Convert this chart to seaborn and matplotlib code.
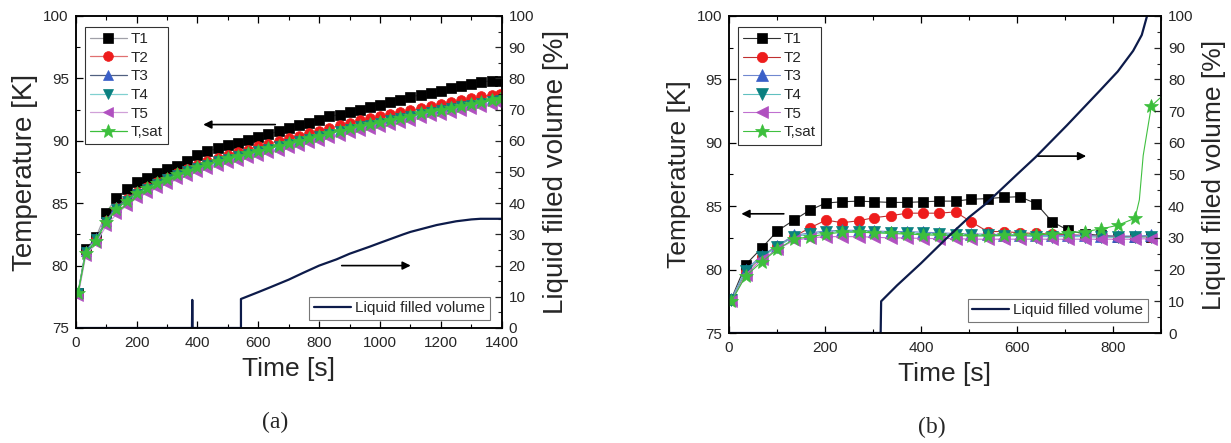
import numpy as np
import pandas as pd
import matplotlib
matplotlib.use("Agg")
import matplotlib.pyplot as plt
from matplotlib.ticker import MultipleLocator
import seaborn as sns

# ---------------- data: panel (a) ----------------
time_a = [8, 33, 67, 100, 133, 167, 200, 233, 267, 300, 333, 367, 400, 433, 467, 500,
          533, 567, 600, 633, 667, 700, 733, 767, 800, 833, 867, 900, 933, 967, 1000,
          1033, 1067, 1100, 1133, 1167, 1200, 1233, 1267, 1300, 1333, 1367, 1395]
t1_a = [77.8, 81.3, 82.3, 84.25, 85.4, 86.1, 86.7, 87.05, 87.4, 87.7, 88.0, 88.4, 88.85,
        89.15, 89.4, 89.65, 89.85, 90.05, 90.3, 90.55, 90.75, 91.0, 91.25, 91.45, 91.7,
        91.95, 92.1, 92.3, 92.5, 92.7, 92.9, 93.1, 93.3, 93.5, 93.7, 93.85, 94.0, 94.2,
        94.4, 94.55, 94.72, 94.8, 94.8]
t2_a = [77.8, 81.1, 82.1, 83.6, 84.6, 85.3, 85.9, 86.3, 86.7, 87.05, 87.4, 87.75, 88.05,
        88.35, 88.6, 88.85, 89.1, 89.3, 89.55, 89.75, 90.0, 90.2, 90.4, 90.6, 90.8, 91.0,
        91.25, 91.45, 91.65, 91.8, 91.95, 92.15, 92.3, 92.45, 92.6, 92.8, 92.95, 93.1,
        93.25, 93.4, 93.55, 93.7, 93.75]
t3_a = [77.9, 81.2, 82.2, 83.6, 84.7, 85.3, 85.9, 86.3, 86.7, 87.05, 87.4, 87.7, 88.0,
        88.25, 88.5, 88.7, 88.9, 89.1, 89.3, 89.5, 89.7, 89.9, 90.1, 90.3, 90.5, 90.7,
        90.9, 91.1, 91.3, 91.45, 91.6, 91.8, 91.95, 92.1, 92.3, 92.45, 92.6, 92.75, 92.9,
        93.05, 93.2, 93.35, 93.45]
t4_a = [77.8, 81.1, 82.1, 83.5, 84.55, 85.15, 85.75, 86.15, 86.55, 86.9, 87.25, 87.55,
        87.85, 88.1, 88.35, 88.55, 88.75, 88.95, 89.15, 89.35, 89.55, 89.75, 89.95, 90.15,
        90.35, 90.55, 90.75, 90.95, 91.15, 91.3, 91.45, 91.65, 91.8, 91.95, 92.15, 92.3,
        92.45, 92.6, 92.75, 92.9, 93.05, 93.2, 93.3]
t5_a = [77.6, 80.8, 81.8, 83.2, 84.1, 84.8, 85.4, 85.8, 86.2, 86.55, 86.9, 87.2, 87.5,
        87.75, 88.0, 88.2, 88.4, 88.6, 88.8, 89.0, 89.2, 89.4, 89.6, 89.8, 90.0, 90.2,
        90.4, 90.6, 90.8, 90.95, 91.1, 91.3, 91.45, 91.6, 91.8, 91.95, 92.1, 92.25, 92.4,
        92.55, 92.7, 92.85, 92.95]
tsat_a = [77.8, 81.0, 82.0, 83.5, 84.5, 85.2, 85.8, 86.2, 86.6, 86.95, 87.3, 87.6, 87.9,
          88.15, 88.4, 88.6, 88.8, 89.0, 89.2, 89.4, 89.6, 89.8, 90.0, 90.2, 90.4, 90.6,
          90.8, 91.0, 91.2, 91.35, 91.5, 91.7, 91.85, 92.0, 92.2, 92.35, 92.5, 92.65,
          92.8, 92.95, 93.1, 93.25, 93.35]
vol_time_a = [0, 382, 383, 384, 543, 543, 600, 638, 700, 748, 800, 857, 900, 967, 1000,
              1076, 1100, 1186, 1250, 1300, 1330, 1400]
vol_a = [0, 0, 9.0, 0, 0, 9.3, 11.5, 13.0, 15.5, 17.7, 20.0, 22.0, 23.8, 26.1, 27.3,
         30.0, 30.8, 33.0, 34.2, 34.8, 35.0, 35.0]

# ---------------- data: panel (b) ----------------
time_b = [5, 35, 68, 101, 135, 169, 202, 236, 270, 303, 337, 371, 404, 438, 472, 505,
          539, 573, 606, 640, 674, 707, 741, 775, 810, 846, 880]
t1_b = [77.7, 80.4, 81.7, 83.05, 83.9, 84.7, 85.25, 85.35, 85.4, 85.35, 85.3, 85.3, 85.35,
        85.4, 85.4, 85.55, 85.6, 85.7, 85.75, 85.2, 83.75, 83.1, 82.8, 82.7, 82.6, 82.6, 82.6]
t2_b = [77.6, 79.8, 81.0, 81.9, 82.6, 83.3, 83.9, 83.7, 83.85, 84.1, 84.25, 84.45, 84.45,
        84.45, 84.55, 83.75, 83.0, 83.0, 82.9, 82.85, 82.8, 82.75, 82.7, 82.65, 82.6, 82.6, 82.6]
t3_b = [77.7, 80.0, 81.1, 81.9, 82.7, 82.9, 83.05, 83.1, 83.1, 83.05, 83.0, 83.0, 82.95,
        82.9, 82.85, 82.8, 82.8, 82.75, 82.75, 82.7, 82.7, 82.7, 82.7, 82.65, 82.65, 82.65, 82.7]
t4_b = [77.6, 79.9, 81.0, 81.8, 82.6, 82.8, 82.95, 83.0, 83.0, 82.95, 82.9, 82.9, 82.85,
        82.8, 82.75, 82.7, 82.7, 82.65, 82.65, 82.6, 82.6, 82.6, 82.6, 82.55, 82.55, 82.55, 82.6]
t5_b = [77.5, 79.6, 80.8, 81.6, 82.3, 82.5, 82.6, 82.6, 82.6, 82.55, 82.5, 82.5, 82.45,
        82.45, 82.45, 82.4, 82.4, 82.4, 82.4, 82.4, 82.4, 82.4, 82.4, 82.4, 82.4, 82.4, 82.45]
time_sat_b = [5, 35, 68, 101, 135, 169, 202, 236, 270, 303, 337, 371, 404, 438, 472, 505,
              539, 573, 606, 640, 674, 707, 741, 775, 810, 846, 855, 863, 880, 900]
tsat_b = [77.5, 79.5, 80.6, 81.6, 82.4, 82.6, 82.8, 82.95, 82.95, 82.9, 82.85, 82.8, 82.75,
          82.7, 82.7, 82.65, 82.65, 82.7, 82.7, 82.75, 82.8, 82.9, 83.0, 83.2, 83.5, 84.05,
          85.5, 89.0, 92.9, 93.6]
vol_time_b = [0, 316, 317, 350, 400, 454, 500, 533, 565, 600, 639, 704, 773, 810, 842, 860,
              871]
vol_b = [0, 0, 10.0, 15.0, 22.0, 30.0, 36.5, 40.5, 45.0, 50.0, 55.5, 65.5, 76.5, 82.5,
         89.0, 94.0, 100.0]

labels = ["T1", "T2", "T3", "T4", "T5", "T,sat"]

# ---------------- style ----------------
sns.set_theme(style="ticks")
plt.rcParams["font.family"] = ["Liberation Sans", "DejaVu Sans"]
plt.rcParams["xtick.direction"] = "in"
plt.rcParams["ytick.direction"] = "in"

styles_a = [
    dict(marker="s", mfc="#000000", mec="#000000", line="#a0a0a8", ms=6.5),
    dict(marker="o", mfc="#ee1c1c", mec="#ee1c1c", line="#e07070", ms=7),
    dict(marker="^", mfc="#3a5fc8", mec="#3a5fc8", line="#506080", ms=7.5),
    dict(marker="v", mfc="#0a8080", mec="#0a8080", line="#80d0d0", ms=7.5),
    dict(marker="<", mfc="#b050c0", mec="#b050c0", line="#d0a0d8", ms=7.5),
    dict(marker="*", mfc="#3cbf3c", mec="#3cbf3c", line="#3cbf3c", ms=10),
]
styles_b = [
    dict(marker="s", mfc="#000000", mec="#000000", line="#303030", ms=7),
    dict(marker="o", mfc="#ee1c1c", mec="#ee1c1c", line="#c03030", ms=7.5),
    dict(marker="^", mfc="#3a5fc8", mec="#3a5fc8", line="#7088d0", ms=8),
    dict(marker="v", mfc="#0a8080", mec="#0a8080", line="#60c0c0", ms=8),
    dict(marker="<", mfc="#b050c0", mec="#b050c0", line="#c070d0", ms=8),
    dict(marker="*", mfc="#3cbf3c", mec="#3cbf3c", line="#40c040", ms=10.5),
]

fig = plt.figure(figsize=(12.31, 4.43), dpi=100)
axA = fig.add_axes([0.0615, 0.2596, 0.3461, 0.7043])
axB = fig.add_axes([0.5922, 0.2483, 0.3509, 0.7156])


def draw_series(ax, xs_list, ys_list, mark_idx, styles, lw):
    for xs, ys, mi, lab, st in zip(xs_list, ys_list, mark_idx, labels, styles):
        sns.lineplot(x=xs, y=ys, ax=ax, color=st["line"], linewidth=lw, label=lab,
                     marker=st["marker"], markersize=st["ms"], markerfacecolor=st["mfc"],
                     markeredgecolor=st["mec"], markeredgewidth=0.5,
                     markevery=mi, estimator=None, sort=False, zorder=3)


def style_axes(ax, ax2, xmax, fs_y, fs_y2, fs_x, pad_x):
    ax.set_xlim(0, xmax)
    ax.set_ylim(75, 100)
    ax2.set_ylim(0, 100)
    ax.xaxis.set_major_locator(MultipleLocator(200))
    ax.xaxis.set_minor_locator(MultipleLocator(100))
    ax.yaxis.set_major_locator(MultipleLocator(5))
    ax.yaxis.set_minor_locator(MultipleLocator(2.5))
    ax2.yaxis.set_major_locator(MultipleLocator(10))
    ax2.yaxis.set_minor_locator(MultipleLocator(5))
    ax.tick_params(axis="both", which="both", direction="in", top=True, right=False,
                   labelsize=11, color="black")
    ax.tick_params(axis="x", pad=6)
    ax.tick_params(axis="y", pad=5)
    ax.tick_params(which="major", length=5, width=0.9)
    ax.tick_params(which="minor", length=3, width=0.8)
    ax2.tick_params(axis="y", which="both", direction="in", labelsize=11, pad=5)
    ax2.tick_params(which="major", length=5, width=0.9)
    ax2.tick_params(which="minor", length=3, width=0.8)
    for a in (ax, ax2):
        for s in a.spines.values():
            s.set_linewidth(1.1)
            s.set_color("black")
            s.set_visible(True)
    ax.set_xlabel("Time [s]", fontsize=fs_x, labelpad=pad_x)
    ax.set_ylabel("Temperature [K]", fontsize=fs_y, labelpad=4)
    ax2.set_ylabel("Liquid filled volume [%]", fontsize=fs_y2, labelpad=6)


def add_legends(ax, ax2, vol_anchor):
    leg = ax.legend(loc="upper left", bbox_to_anchor=(0.014, 0.975), frameon=True,
                    fontsize=11, handlelength=2.4, handletextpad=0.25, labelspacing=0.3,
                    borderpad=0.35, fancybox=False, borderaxespad=0.2)
    leg.get_frame().set_edgecolor("black")
    leg.get_frame().set_linewidth(0.8)
    lv = ax2.legend(loc="lower right", bbox_to_anchor=vol_anchor, frameon=True,
                    fontsize=11, handlelength=2.4, handletextpad=0.3, borderpad=0.3,
                    fancybox=False, borderaxespad=0.0)
    lv.get_frame().set_edgecolor("#555555")
    lv.get_frame().set_linewidth(0.8)


arrow = dict(arrowstyle="-|>", color="black", lw=1.2, mutation_scale=12)

# ---- panel (a) ----
draw_series(axA, [time_a] * 6, [t1_a, t2_a, t3_a, t4_a, t5_a, tsat_a],
            [list(range(43))] * 6, styles_a, 0.9)
axA2 = axA.twinx()
sns.lineplot(x=vol_time_a, y=vol_a, ax=axA2, color="#0d1b4a", linewidth=1.6,
             estimator=None, sort=False, label="Liquid filled volume")
style_axes(axA, axA2, 1400, 20, 20, 19, 5)
add_legends(axA, axA2, (0.972, 0.026))
axA.annotate("", xy=(410, 91.3), xytext=(665, 91.3), arrowprops=arrow)
axA2.annotate("", xy=(1110, 20), xytext=(865, 20), arrowprops=arrow)
fig.text(0.2234, 0.047, "(a)", ha="center", va="center", fontsize=17,
         family=["Liberation Serif", "DejaVu Serif"])

# ---- panel (b) ----
draw_series(axB, [time_b] * 5 + [time_sat_b], [t1_b, t2_b, t3_b, t4_b, t5_b, tsat_b],
            [list(range(27))] * 5 + [list(range(26)) + [28]], styles_b, 0.8)
axB2 = axB.twinx()
sns.lineplot(x=vol_time_b, y=vol_b, ax=axB2, color="#0d1b4a", linewidth=1.6,
             estimator=None, sort=False, label="Liquid filled volume")
style_axes(axB, axB2, 900, 19, 19, 19, 5)
add_legends(axB, axB2, (0.97, 0.035))
axB.annotate("", xy=(20, 84.4), xytext=(120, 84.4), arrowprops=arrow)
axB2.annotate("", xy=(750, 55.8), xytext=(638, 55.8), arrowprops=arrow)
fig.text(0.757, 0.036, "(b)", ha="center", va="center", fontsize=17,
         family=["Liberation Serif", "DejaVu Serif"])

fig.savefig("out.png", dpi=100, facecolor="white")
